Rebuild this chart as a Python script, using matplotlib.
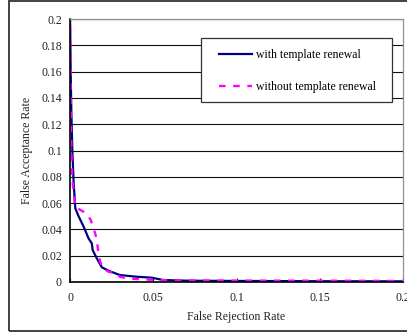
import matplotlib

matplotlib.use("Agg")
from matplotlib import pyplot as plt
from matplotlib.patches import Rectangle

# False Rejection Rate (x) / False Acceptance Rate (y)
frr_with = [0.0, 0.0004, 0.0008, 0.0014, 0.0022, 0.0032, 0.0048, 0.0082, 0.0112,
            0.0131, 0.0136, 0.0161, 0.0191, 0.0231, 0.0299, 0.040, 0.049, 0.056,
            0.070, 0.100, 0.150, 0.200]
far_with = [0.205, 0.160, 0.130, 0.100, 0.075, 0.056, 0.051, 0.042, 0.033,
            0.0294, 0.0243, 0.018, 0.0112, 0.0086, 0.0053, 0.0040, 0.0033, 0.0015,
            0.0010, 0.0008, 0.0006, 0.0005]

frr_without = [0.0, 0.0005, 0.0012, 0.0032, 0.0101, 0.0125, 0.0151, 0.0161, 0.0171,
               0.0181, 0.0201, 0.0231, 0.028, 0.030, 0.034, 0.043, 0.060, 0.100,
               0.150, 0.200]
far_without = [0.205, 0.120, 0.080, 0.057, 0.052, 0.047, 0.037, 0.032, 0.0218,
               0.0154, 0.0104, 0.0078, 0.0066, 0.0040, 0.0028, 0.0020, 0.0012, 0.0010,
               0.0010, 0.0008]

x_ticks = [0, 0.05, 0.1, 0.15, 0.2]
x_labels = ["0", "0.05", "0.1", "0.15", "0.2"]
y_ticks = [0, 0.02, 0.04, 0.06, 0.08, 0.1, 0.12, 0.14, 0.16, 0.18, 0.2]
y_labels = ["0", "0.02", "0.04", "0.06", "0.08", "0.1", "0.12", "0.14", "0.16", "0.18", "0.2"]

W, H = 407, 334
plt.rcParams["font.family"] = ["Liberation Serif", "DejaVu Serif"]
plt.rcParams["font.size"] = 8.5

fig = plt.figure(figsize=(W / 100, H / 100), dpi=100)
ax = fig.add_axes([70 / W, 1 - 282 / H, (403 - 70) / W, (282 - 19) / H])

# chart border
fig.patches.append(Rectangle((9 / W, 1 - 331 / H), 1.0, (331 - 1) / H,
                             transform=fig.transFigure, fill=False,
                             edgecolor="#333333", linewidth=1.3))

ax.set_xlim(0, 0.2)
ax.set_ylim(0, 0.2)
ax.set_xticks(x_ticks)
ax.set_xticklabels(x_labels)
ax.set_yticks(y_ticks)
ax.set_yticklabels(y_labels)
ax.tick_params(axis="x", direction="in", length=3, width=0.8, pad=7, colors="#222222")
ax.tick_params(axis="y", length=0, pad=5.8, colors="#222222")
ax.grid(axis="y", color="#111111", linewidth=0.8)
ax.set_axisbelow(True)
for side in ("top", "right"):
    ax.spines[side].set_color("#909090")
    ax.spines[side].set_linewidth(0.9)
for side in ("left", "bottom"):
    ax.spines[side].set_color("#000000")
    ax.spines[side].set_linewidth(1.2)

ax.plot(frr_with, far_with, color="#000080", linewidth=1.6, label="with template renewal")
ax.plot(frr_without, far_without, color="#FF00FF", linewidth=1.7, dashes=(2.8, 3.2),
        label="without template renewal")

ax.set_xlabel("False Rejection Rate", labelpad=5, color="#222222")
ax.set_ylabel("False Acceptance Rate", labelpad=6, color="#222222")

# legend box
ax.add_patch(Rectangle((201 / W, 1 - 102 / H), (392 - 201) / W, (102 - 38) / H,
                       transform=fig.transFigure, facecolor="white", clip_on=False,
                       edgecolor="#333333", linewidth=0.9, zorder=5))
leg = ax.legend(loc="upper left", bbox_to_anchor=(219 / W, 1 - 49 / H),
                bbox_transform=fig.transFigure, frameon=False, borderpad=0,
                borderaxespad=0, handlelength=2.8, handletextpad=0.3,
                labelspacing=1.7)
leg.set_zorder(6)

fig.savefig("out.png", dpi=100)
